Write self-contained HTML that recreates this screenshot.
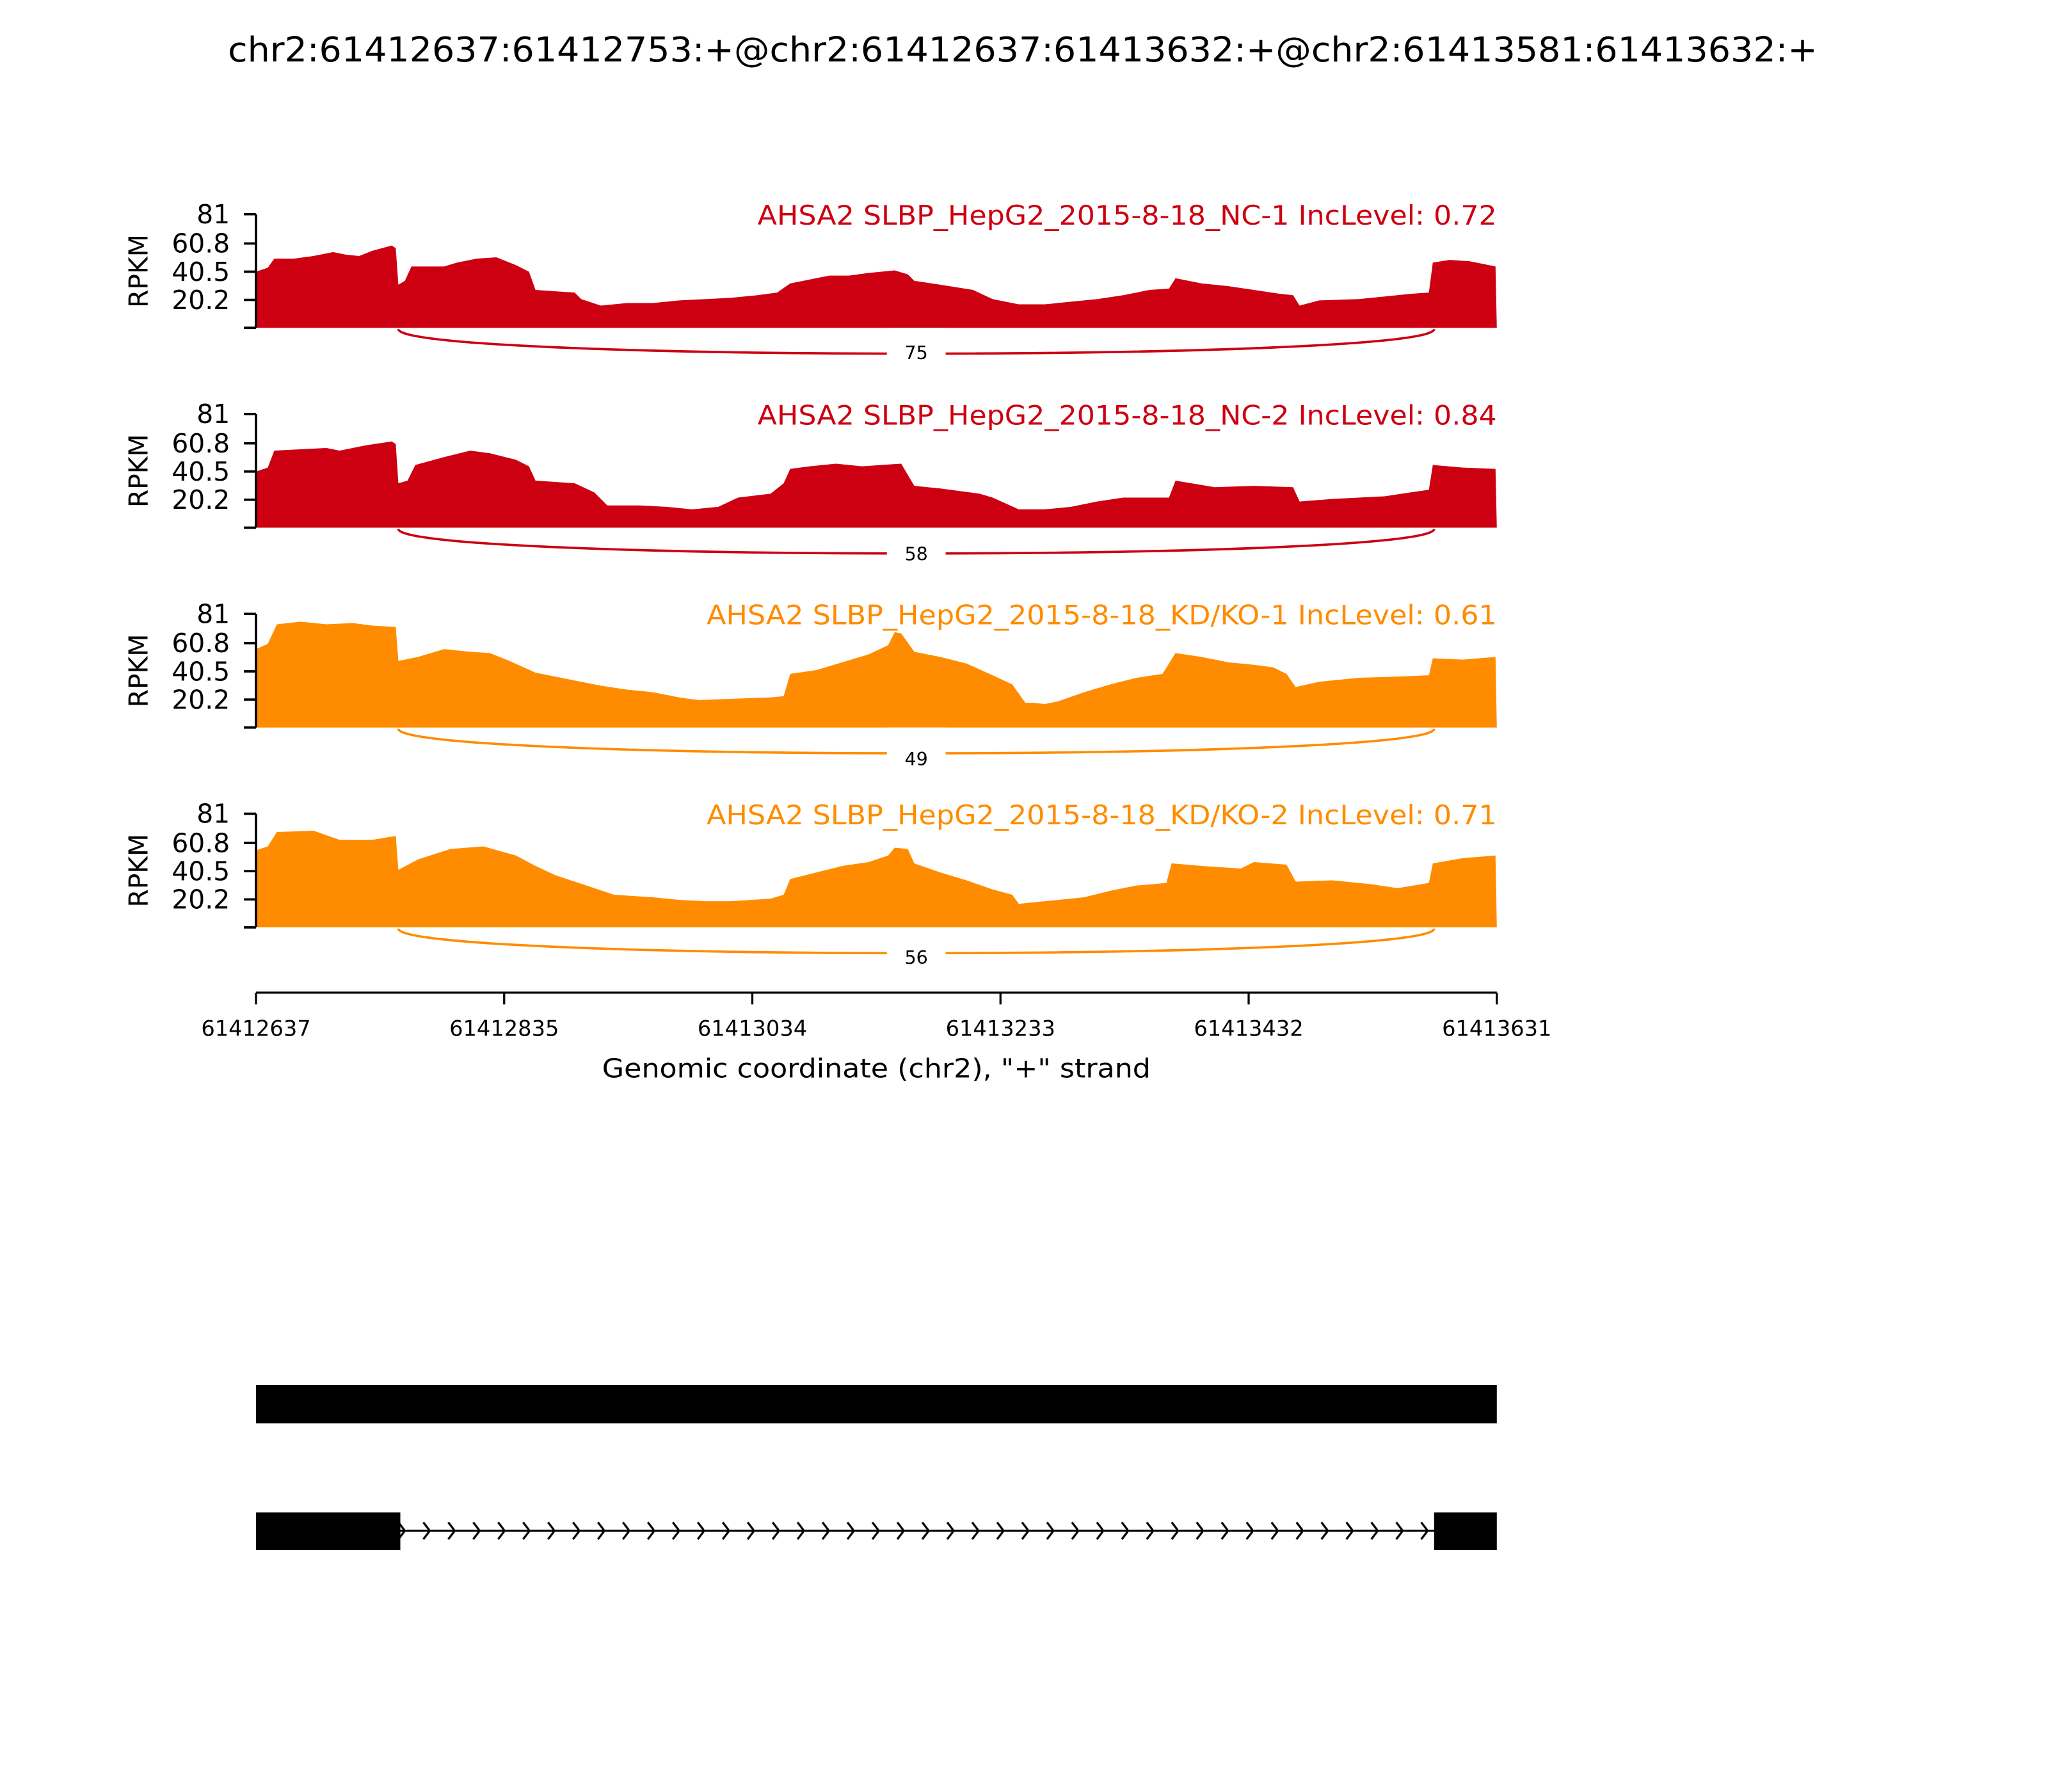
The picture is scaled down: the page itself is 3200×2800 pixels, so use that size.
<!DOCTYPE html>
<html><head><meta charset="utf-8"><style>
html,body{margin:0;padding:0;background:#fff}
svg{display:block}
text{font-family:"DejaVu Sans","Liberation Sans",sans-serif}
</style></head><body>
<svg width="3200" height="2800" viewBox="0 0 1568 1372" xmlns="http://www.w3.org/2000/svg">
<defs>
<pattern id="chev" x="290.9" y="1160" width="19.1" height="24" patternUnits="userSpaceOnUse">
<polyline points="14.1,5.5 19.1,12 14.1,18.5" fill="none" stroke="#000" stroke-width="1.6"/>
</pattern>
</defs>
<text x="783" y="47" font-size="26" text-anchor="middle" textLength="1217" lengthAdjust="spacingAndGlyphs">chr2:61412637:61412753:+@chr2:61412637:61413632:+@chr2:61413581:61413632:+</text>

<!-- Panel 1 -->
<g>
<path fill="#cc0011" d="M196,251 L196,208 205,205 210,198 225,198 240,196 255,193 265,195 275,196 285,192 300,188 303,190 305,218 310,215 315,204 340,204 350,201 365,198 380,197 395,203 405,208 410,222 425,223 440,224 445,229 460,234 480,232 500,232 520,230 540,229 560,228 580,226 595,224 605,217 620,214 635,211 650,211 665,209 685,207 695,210 700,215 720,218 745,222 760,229 780,233 800,233 820,231 840,229 860,226 880,222 895,221 900,213 920,217 940,219 960,222 980,225 990,226 995,234 1010,230 1040,229 1080,225 1094,224 1097,201 1110,199 1125,200 1140,203 1145,204 1146,251 Z"/>
<path d="M305,252 C305,277 1098,277 1098,252" fill="none" stroke="#cc0011" stroke-width="1.8"/>
<rect x="679" y="251" width="45" height="24" fill="#fff"/>
<text x="701.5" y="275" font-size="14" text-anchor="middle">75</text>
<text x="1146" y="172" font-size="20.5" fill="#cc0011" text-anchor="end" textLength="566" lengthAdjust="spacingAndGlyphs">AHSA2 SLBP_HepG2_2015-8-18_NC-1 IncLevel: 0.72</text>
</g>
<!-- Panel 2 -->
<g>
<path fill="#cc0011" d="M196,404 L196,361 205,358 210,345 230,344 250,343 260,345 280,341 300,338 303,340 305,370 312,368 318,356 340,350 360,345 375,347 395,352 405,357 410,368 425,369 440,370 455,377 465,387 490,387 510,388 530,390 550,388 565,381 590,378 600,370 605,359 620,357 640,355 660,357 690,355 700,372 720,374 750,378 760,381 780,390 800,390 820,388 840,384 860,381 895,381 900,368 930,373 960,372 990,373 995,384 1020,382 1060,380 1080,377 1094,375 1097,356 1120,358 1145,359 1146,404 Z"/>
<path d="M305,405 C305,430 1098,430 1098,405" fill="none" stroke="#cc0011" stroke-width="1.8"/>
<rect x="679" y="404" width="45" height="24" fill="#fff"/>
<text x="701.5" y="429" font-size="14" text-anchor="middle">58</text>
<text x="1146" y="325" font-size="20.5" fill="#cc0011" text-anchor="end" textLength="566" lengthAdjust="spacingAndGlyphs">AHSA2 SLBP_HepG2_2015-8-18_NC-2 IncLevel: 0.84</text>
</g>
<!-- Panel 3 -->
<g>
<path fill="#ff8c00" d="M196,557 L196,497 205,493 212,478 230,476 250,478 270,477 285,479 303,480 305,506 320,503 340,497 360,499 375,500 390,506 410,515 425,518 440,521 460,525 480,528 500,530 520,534 535,536 560,535 590,534 600,533 605,516 625,513 645,507 665,501 680,494 685,484 690,485 700,499 720,503 740,508 760,517 775,524 785,538 790,538 800,539 810,537 830,530 850,524 870,519 890,516 900,500 920,503 940,507 960,509 975,511 985,516 992,526 1010,522 1040,519 1070,518 1094,517 1097,504 1120,505 1145,503 1146,557 Z"/>
<path d="M305,558 C305,583 1098,583 1098,558" fill="none" stroke="#ff8c00" stroke-width="1.8"/>
<rect x="679" y="557" width="45" height="26" fill="#fff"/>
<text x="701.5" y="586" font-size="14" text-anchor="middle">49</text>
<text x="1146" y="478" font-size="20.5" fill="#ff8c00" text-anchor="end" textLength="605" lengthAdjust="spacingAndGlyphs">AHSA2 SLBP_HepG2_2015-8-18_KD/KO-1 IncLevel: 0.61</text>
</g>
<!-- Panel 4 -->
<g>
<path fill="#ff8c00" d="M196,710 L196,651 205,648 212,637 240,636 260,643 285,643 303,640 305,666 320,658 345,650 370,648 395,655 410,663 425,670 440,675 455,680 470,685 500,687 520,689 540,690 560,690 590,688 600,685 605,673 625,668 645,663 665,660 680,655 685,649 695,650 700,661 720,668 740,674 760,681 775,685 780,692 800,690 830,687 850,682 870,678 893,676 897,661 920,663 950,665 960,660 985,662 992,675 1020,674 1050,677 1070,680 1094,676 1097,661 1120,657 1145,655 1146,710 Z"/>
<path d="M305,711 C305,736 1098,736 1098,711" fill="none" stroke="#ff8c00" stroke-width="1.8"/>
<rect x="679" y="710" width="45" height="26" fill="#fff"/>
<text x="701.5" y="738" font-size="14" text-anchor="middle">56</text>
<text x="1146" y="631" font-size="20.5" fill="#ff8c00" text-anchor="end" textLength="605" lengthAdjust="spacingAndGlyphs">AHSA2 SLBP_HepG2_2015-8-18_KD/KO-2 IncLevel: 0.71</text>
</g>

<!-- Y axes -->
<g stroke="#000" stroke-width="1.8" fill="none">
<path d="M196,164 V251 M186.7,164 H196 M186.7,186.4 H196 M186.7,208 H196 M186.7,229.6 H196 M186.7,251 H196"/>
<path d="M196,317 V404 M186.7,317 H196 M186.7,339.4 H196 M186.7,361 H196 M186.7,382.6 H196 M186.7,404 H196"/>
<path d="M196,470 V557 M186.7,470 H196 M186.7,492.4 H196 M186.7,514 H196 M186.7,535.6 H196 M186.7,557 H196"/>
<path d="M196,623 V710 M186.7,623 H196 M186.7,645.4 H196 M186.7,667 H196 M186.7,688.6 H196 M186.7,710 H196"/>
</g>
<g font-size="20" text-anchor="end">
<text x="176" y="171">81</text><text x="176" y="193.4">60.8</text><text x="176" y="215">40.5</text><text x="176" y="236.6">20.2</text>
<text x="176" y="324">81</text><text x="176" y="346.4">60.8</text><text x="176" y="368">40.5</text><text x="176" y="389.6">20.2</text>
<text x="176" y="477">81</text><text x="176" y="499.4">60.8</text><text x="176" y="521">40.5</text><text x="176" y="542.6">20.2</text>
<text x="176" y="630">81</text><text x="176" y="652.4">60.8</text><text x="176" y="674">40.5</text><text x="176" y="695.6">20.2</text>
</g>
<g font-size="20" text-anchor="middle">
<text transform="translate(113,207.5) rotate(-90)">RPKM</text>
<text transform="translate(113,360.5) rotate(-90)">RPKM</text>
<text transform="translate(113,513.5) rotate(-90)">RPKM</text>
<text transform="translate(113,666.5) rotate(-90)">RPKM</text>
</g>

<!-- X axis -->
<g stroke="#000" stroke-width="1.6" fill="none">
<path d="M196,760 H1146 M196,760 V769 M386,760 V769 M576,760 V769 M766,760 V769 M956,760 V769 M1146,760 V769"/>
</g>
<g font-size="16.5" text-anchor="middle">
<text x="196" y="793">61412637</text><text x="386" y="793">61412835</text><text x="576" y="793">61413034</text>
<text x="766" y="793">61413233</text><text x="956" y="793">61413432</text><text x="1146" y="793">61413631</text>
</g>
<text x="671" y="825" font-size="20" text-anchor="middle" textLength="420" lengthAdjust="spacingAndGlyphs">Genomic coordinate (chr2), "+" strand</text>

<!-- Gene models -->
<rect x="196" y="1060.4" width="950" height="29.4" fill="#000"/>
<line x1="306" y1="1172" x2="1098" y2="1172" stroke="#000" stroke-width="1.6"/>
<rect x="296" y="1160" width="802" height="24" fill="url(#chev)"/>
<rect x="196" y="1158" width="110.5" height="28.8" fill="#000"/>
<rect x="1098" y="1158" width="48" height="28.8" fill="#000"/>
</svg>
</body></html>
